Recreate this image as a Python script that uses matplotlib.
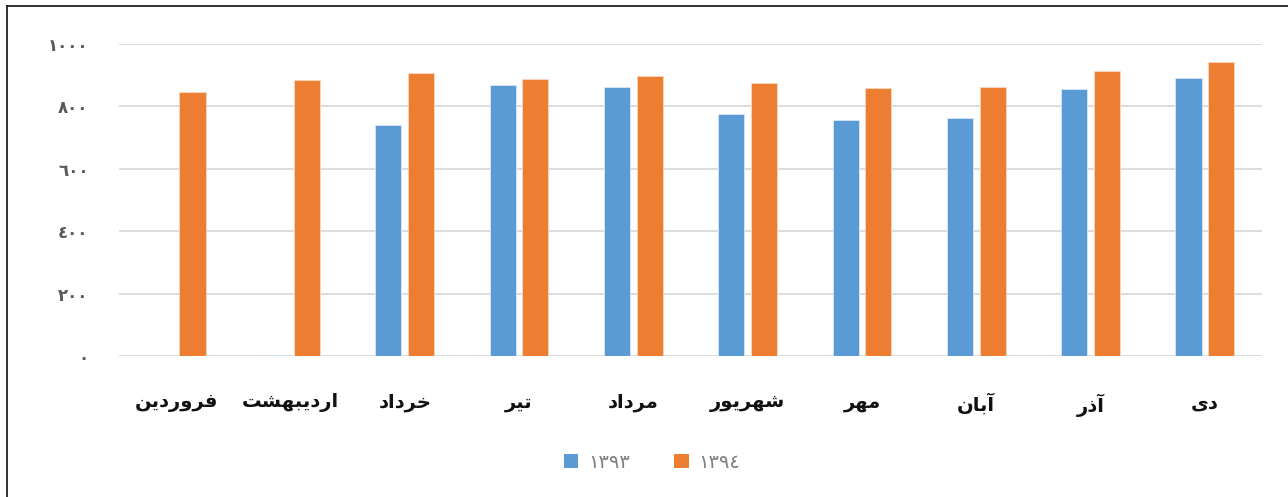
import matplotlib
matplotlib.use("Agg")
import matplotlib.pyplot as plt
import numpy as np
from matplotlib.patches import Patch
from matplotlib.lines import Line2D

# Monthly values for two years
months = ["فروردین", "اردیبهشت", "خرداد", "تیر", "مرداد",
          "شهریور", "مهر", "آبان", "آذر", "دی"]
values_1393 = [0, 3, 739, 869, 862, 777, 758, 763, 856, 892]
values_1394 = [847, 884, 908, 889, 896, 875, 859, 863, 912, 942]
series_names = ["١٣٩٣", "١٣٩٤"]
y_ticks = [0, 200, 400, 600, 800, 1000]

# --- minimal Arabic/Persian shaping (presentation forms + visual order) ---
FORMS = {
    "ا": ("\uFE8D", "\uFE8E", None, None),
    "آ": ("\uFE81", "\uFE82", None, None),
    "ب": ("\uFE8F", "\uFE90", "\uFE91", "\uFE92"),
    "ت": ("\uFE95", "\uFE96", "\uFE97", "\uFE98"),
    "خ": ("\uFEA5", "\uFEA6", "\uFEA7", "\uFEA8"),
    "د": ("\uFEA9", "\uFEAA", None, None),
    "ذ": ("\uFEAB", "\uFEAC", None, None),
    "ر": ("\uFEAD", "\uFEAE", None, None),
    "ش": ("\uFEB5", "\uFEB6", "\uFEB7", "\uFEB8"),
    "ف": ("\uFED1", "\uFED2", "\uFED3", "\uFED4"),
    "م": ("\uFEE1", "\uFEE2", "\uFEE3", "\uFEE4"),
    "ن": ("\uFEE5", "\uFEE6", "\uFEE7", "\uFEE8"),
    "ه": ("\uFEE9", "\uFEEA", "\uFEEB", "\uFEEC"),
    "و": ("\uFEED", "\uFEEE", None, None),
    "ی": ("\uFBFC", "\uFBFD", "\uFBFE", "\uFBFF"),
}


def dual(c):
    return c in FORMS and FORMS[c][2] is not None


def shape(text):
    out = []
    for i, c in enumerate(text):
        if c not in FORMS:
            out.append(c)
            continue
        prev_join = i > 0 and dual(text[i - 1])
        next_join = dual(c) and i + 1 < len(text) and text[i + 1] in FORMS
        iso, fin, ini, med = FORMS[c]
        if prev_join and next_join:
            out.append(med)
        elif prev_join:
            out.append(fin)
        elif next_join:
            out.append(ini)
        else:
            out.append(iso)
    return "".join(reversed(out))


def to_arabic_digits(n):
    return "".join(chr(0x0660 + int(d)) for d in str(n))


plt.rcParams["font.family"] = ["DejaVu Sans"]

W, H = 1288, 497
fig = plt.figure(figsize=(W / 100, H / 100), dpi=100)
fig.patch.set_facecolor("white")

left_px, right_px, top_px, bottom_px = 119, 1262, 44, 356
ax = fig.add_axes([left_px / W, 1 - bottom_px / H,
                   (right_px - left_px) / W, (bottom_px - top_px) / H])

blue = "#5b9bd5"
orange = "#ed7d31"
x = np.arange(len(months))
bw = 0.228
off = 0.143
ax.bar(x - off, values_1393, width=bw, color=blue, edgecolor="#dbe8f5",
       linewidth=0.6, zorder=3)
ax.bar(x + off, values_1394, width=bw, color=orange, edgecolor="#f8d8c4",
       linewidth=0.6, zorder=3)

ax.set_xlim(-0.5, len(months) - 0.5)
ax.set_ylim(0, 1000)
ax.set_yticks(y_ticks)
ax.set_yticklabels([to_arabic_digits(v) for v in y_ticks],
                   color="#595959", fontsize=12, fontweight="bold")
ax.set_xticks(x)
ax.set_xticklabels([shape(m) for m in months], fontsize=14,
                   fontweight="bold", color="#111111")
ax.tick_params(axis="y", length=0, pad=22)
ax.tick_params(axis="x", length=0, pad=27)
ax.yaxis.grid(True, color="#d9d9d9", linewidth=1.3, zorder=0)
ax.set_axisbelow(True)
for s in ax.spines.values():
    s.set_visible(False)

handles = [Patch(facecolor=blue, edgecolor="none"),
           Patch(facecolor=orange, edgecolor="none")]
leg = fig.legend(handles, series_names, loc="center",
                 bbox_to_anchor=(652 / W, 1 - 462 / H), ncol=2,
                 frameon=False, handlelength=0.75, handleheight=0.75,
                 handletextpad=0.5, columnspacing=2.3,
                 prop={"size": 14})
for t in leg.get_texts():
    t.set_color("#7f7f7f")

# frame lines along the top and left edges
fig.add_artist(Line2D([7 / W, 7 / W], [0, 1 - 6 / H], transform=fig.transFigure,
                      color="#222222", linewidth=1.3))
fig.add_artist(Line2D([7 / W, 1], [1 - 6 / H, 1 - 6 / H], transform=fig.transFigure,
                      color="#222222", linewidth=1.3))

fig.savefig("out.png", dpi=100, facecolor="white")
